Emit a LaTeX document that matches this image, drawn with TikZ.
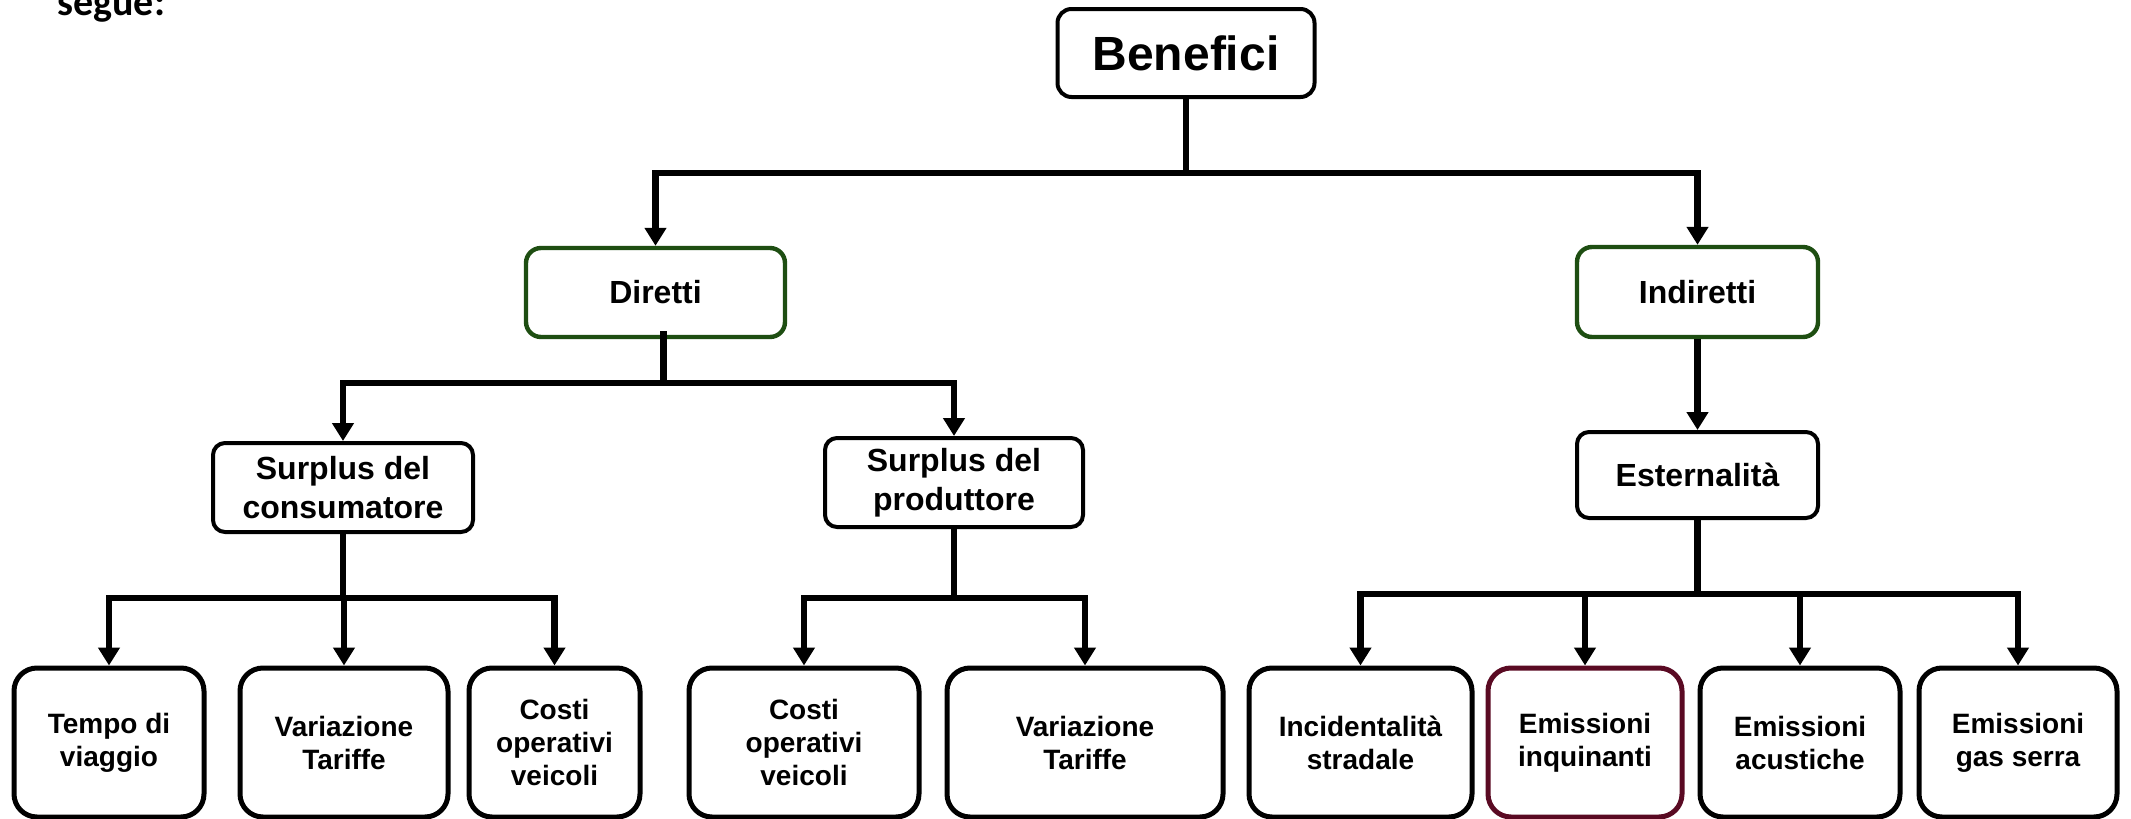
\documentclass[tikz,border=0pt]{standalone}
\usepackage{fontspec}
\setmainfont{Liberation Sans}
\newfontfamily\calib{Carlito}
\usetikzlibrary{arrows.meta}
\definecolor{dgreen}{RGB}{30,78,18}
\definecolor{dred}{RGB}{90,10,35}
\begin{document}
\begin{tikzpicture}[x=0.5pt,y=-0.5pt,
  conn/.style={line width=3.4pt},
  arr/.style={conn,-{Triangle[width=10.5pt,length=9pt]}},
  bx/.style={draw,rounded corners=6pt,line width=2pt,inner sep=0pt,align=center,
    font=\bfseries\fontsize{16}{19.5}\selectfont},
  grn/.style={bx,draw=dgreen,rounded corners=7.5pt,line width=2.2pt},
  leaf/.style={bx,rounded corners=11.5pt,line width=2.5pt,minimum height=74.5pt,
    font=\bfseries\fontsize{14}{16.5}\selectfont},
]
\useasboundingbox (0,0) rectangle (2131,819);
\fill[white] (0,0) rectangle (2131,819);

\node[anchor=base west,inner sep=0pt,font=\calib\bfseries\fontsize{20}{24}\selectfont] (seg) at (57,15) {segue:};

\node[bx,rounded corners=7pt,minimum width=128.5pt,minimum height=44pt,
  font=\bfseries\fontsize{24}{28}\selectfont] (ben) at (1186,53) {Benefici};

\node[grn,minimum width=129.5pt,minimum height=44.5pt] (dir) at (655.5,292.5) {Diretti};
\node[grn,minimum width=120.5pt,minimum height=45pt] (ind) at (1697.5,292) {Indiretti};

\node[bx,minimum width=130pt,minimum height=44.5pt] (con) at (343,487.5) {Surplus del\\consumatore};
\node[bx,minimum width=129pt,minimum height=44.5pt] (pro) at (954,482.5) {Surplus del\\produttore};
\node[bx,minimum width=120.5pt,minimum height=43pt] (est) at (1697.5,475) {Esternalità};

\node[leaf,minimum width=95pt] (tempo) at (109,742.5) {Tempo di\\viaggio};
\node[leaf,minimum width=104pt] (var1) at (344,742.5) {Variazione\\Tariffe};
\node[leaf,minimum width=85.5pt] (costi1) at (554.5,742.5) {Costi\\operativi\\veicoli};
\node[leaf,minimum width=115pt] (costi2) at (804,742.5) {Costi\\operativi\\veicoli};
\node[leaf,minimum width=138pt] (var2) at (1085,742.5) {Variazione\\Tariffe};
\node[leaf,minimum width=111.5pt] (inc) at (1360.5,742.5) {Incidentalità\\stradale};
\node[leaf,draw=dred,minimum width=97pt] (emi) at (1585,742.5) {Emissioni\\inquinanti};
\node[leaf,minimum width=100pt] (acu) at (1800,742.5) {Emissioni\\acustiche};
\node[leaf,minimum width=99pt] (gas) at (2018,742.5) {Emissioni\\gas serra};

\coordinate (h1) at (0,173);
\coordinate (h2) at (0,383);
\coordinate (h3) at (0,598);
\coordinate (h4) at (0,594);

\draw[arr] (ben.south) |- (dir.north |- h1) -- (dir.north);
\draw[arr] (ben.south) |- (ind.north |- h1) -- (ind.north);

\draw[arr] ([xshift=4pt,yshift=4pt]dir.south) |- (con.north |- h2) -- (con.north);
\draw[arr] ([xshift=4pt,yshift=4pt]dir.south) |- (pro.north |- h2) -- (pro.north);

\draw[arr] (ind.south) -- (est.north);

\draw[arr] (con.south) |- (tempo.north |- h3) -- (tempo.north);
\draw[arr] (con.south) |- (var1.north |- h3) -- (var1.north);
\draw[arr] (con.south) |- (costi1.north |- h3) -- (costi1.north);

\draw[arr] (pro.south) |- (costi2.north |- h3) -- (costi2.north);
\draw[arr] (pro.south) |- (var2.north |- h3) -- (var2.north);

\draw[arr] (est.south) |- (inc.north |- h4) -- (inc.north);
\draw[arr] (est.south) |- (emi.north |- h4) -- (emi.north);
\draw[arr] (est.south) |- (acu.north |- h4) -- (acu.north);
\draw[arr] (est.south) |- (gas.north |- h4) -- (gas.north);
\end{tikzpicture}
\end{document}
